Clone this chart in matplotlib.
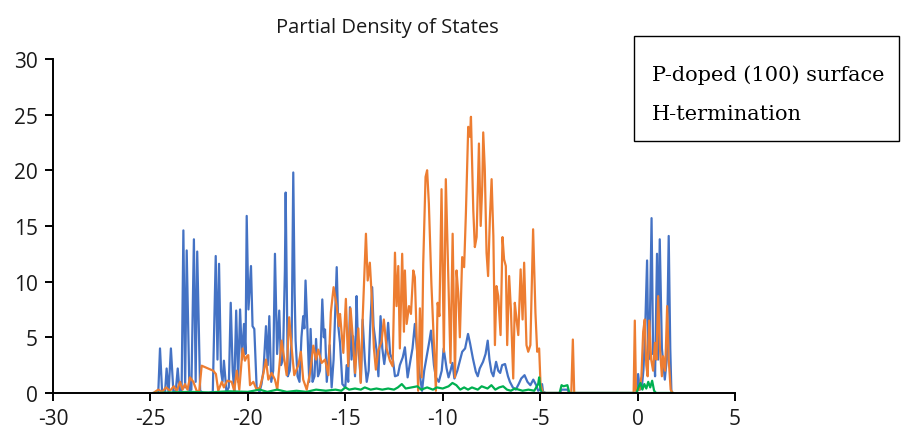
import matplotlib.pyplot as plt
from matplotlib.patches import Rectangle

plt.rcParams['axes.unicode_minus'] = False

# (energy, PDOS) pairs
blue_pts = [
    (-24.85, 0), (-24.6, 0), (-24.51, 4.0), (-24.4, 0), (-24.25, 0.1), (-24.17, 2.2),
    (-24.07, 0), (-23.95, 4.0), (-23.82, 0), (-23.7, 0.2), (-23.6, 2.2), (-23.5, 0),
    (-23.4, 0.3), (-23.31, 14.6), (-23.22, 0.5), (-23.14, 12.8), (-23.0, 0.2), (-22.9, 0.3),
    (-22.77, 13.8), (-22.68, 1.0), (-22.6, 12.7), (-22.45, 0.2), (-22.3, 0), (-22.0, 0),
    (-21.8, 0.1), (-21.65, 12.3), (-21.56, 3.0), (-21.48, 11.6), (-21.38, 2.0), (-21.3, 1.0),
    (-21.23, 2.9), (-21.1, 0.1), (-20.98, 0.5), (-20.88, 8.1), (-20.78, 2.0), (-20.7, 0.2),
    (-20.6, 7.4), (-20.5, 1.0), (-20.4, 7.5), (-20.3, 3.0), (-20.2, 6.2), (-20.12, 3.5),
    (-20.06, 15.9), (-19.97, 7.5), (-19.9, 9.6), (-19.84, 11.4), (-19.76, 6.0), (-19.67, 5.75),
    (-19.55, 0.5), (-19.4, 0.1), (-19.3, 0.8), (-19.2, 2.0), (-19.07, 6.0), (-18.98, 2.5),
    (-18.9, 6.9), (-18.8, 1.0), (-18.7, 2.0), (-18.61, 12.5), (-18.5, 3.5), (-18.39, 7.4),
    (-18.3, 2.5), (-18.2, 3.0), (-18.1, 11.0), (-18.06, 18.0), (-17.95, 1.5), (-17.85, 2.0),
    (-17.75, 5.0), (-17.67, 19.8), (-17.6, 9.0), (-17.55, 4.7), (-17.45, 1.5), (-17.35, 1.0),
    (-17.25, 5.0), (-17.16, 6.9), (-17.1, 5.8), (-17.04, 10.1), (-16.95, 6.0), (-16.85, 1.0),
    (-16.78, 5.75), (-16.68, 1.0), (-16.58, 1.5), (-16.5, 4.85), (-16.4, 1.5), (-16.3, 2.0),
    (-16.18, 8.4), (-16.1, 5.0), (-16.04, 5.7), (-15.95, 1.0), (-15.8, 4.3), (-15.7, 0.5),
    (-15.6, 3.0), (-15.44, 11.3), (-15.36, 6.0), (-15.27, 4.5), (-15.15, 0.8), (-15.0, 0.5),
    (-14.93, 2.5), (-14.85, 1.0), (-14.76, 7.7), (-14.68, 3.0), (-14.6, 5.1), (-14.5, 1.5),
    (-14.42, 8.7), (-14.36, 5.0), (-14.3, 3.5), (-14.2, 1.0), (-14.11, 6.6), (-14.0, 3.0),
    (-13.9, 1.0), (-13.8, 2.0), (-13.72, 6.0), (-13.62, 9.5), (-13.55, 6.0), (-13.4, 3.9),
    (-13.3, 1.5), (-13.19, 6.9), (-13.1, 4.0), (-13.0, 2.6), (-12.9, 4.0), (-12.8, 6.3),
    (-12.7, 3.5), (-12.55, 2.9), (-12.45, 1.5), (-12.3, 1.6), (-12.2, 2.5), (-12.05, 3.2),
    (-11.94, 4.1), (-11.8, 1.4), (-11.65, 3.0), (-11.55, 4.0), (-11.43, 6.2), (-11.3, 3.5),
    (-11.2, 1.9), (-11.06, 0.2), (-10.95, 2.0), (-10.8, 3.5), (-10.7, 4.5), (-10.6, 5.6),
    (-10.45, 2.5), (-10.35, 1.4), (-10.2, 1.0), (-10.05, 2.0), (-9.95, 4.0), (-9.8, 2.2),
    (-9.7, 1.4), (-9.6, 2.0), (-9.5, 2.7), (-9.4, 1.3), (-9.25, 2.0), (-9.1, 3.0),
    (-9.0, 3.7), (-8.85, 4.0), (-8.7, 5.3), (-8.6, 4.5), (-8.45, 3.1), (-8.3, 1.9),
    (-8.2, 1.5), (-8.1, 2.2), (-7.93, 2.8), (-7.8, 3.5), (-7.69, 4.7), (-7.6, 3.0),
    (-7.5, 1.9), (-7.4, 1.5), (-7.26, 2.8), (-7.15, 2.0), (-7.05, 1.8), (-6.95, 2.5),
    (-6.8, 2.6), (-6.65, 1.5), (-6.55, 1.0), (-6.4, 0.5), (-6.25, 0.3), (-6.1, 0.8),
    (-5.97, 1.3), (-5.8, 1.6), (-5.65, 1.0), (-5.5, 0.7), (-5.35, 1.2), (-5.2, 0.7),
    (-5.1, 0.2), (-5.0, 0.3), (-4.9, 0.8), (-4.85, 0.1), (-4.7, 0), (-4.0, 0),
    (-3.9, 0.3), (-3.6, 0.3), (-3.5, 0), (-0.05, 0), (0.03, 1.7), (0.12, 0.3),
    (0.22, 0.5), (0.3, 2.0), (0.38, 5.0), (0.49, 11.9), (0.56, 3.0), (0.63, 6.0),
    (0.72, 15.7), (0.8, 3.5), (0.84, 3.5), (0.9, 1.5), (1.0, 12.5), (1.06, 3.0),
    (1.14, 13.8), (1.25, 4.0), (1.4, 1.2), (1.5, 3.0), (1.6, 14.1), (1.68, 4.0),
    (1.74, 0), (1.8, 0),
]

orange_pts = [
    (-24.85, 0), (-24.6, 0.3), (-24.4, 0.1), (-24.2, 0.5), (-24.0, 0.2), (-23.8, 0.6),
    (-23.65, 0.2), (-23.48, 1.0), (-23.35, 0.3), (-23.23, 0.8), (-23.1, 0.3), (-22.97, 1.4),
    (-22.8, 1.0), (-22.63, 0.2), (-22.5, 0.1), (-22.37, 2.45), (-21.78, 2.0), (-21.64, 1.7),
    (-21.52, 0.2), (-21.34, 1.0), (-21.23, 0.5), (-21.06, 1.1), (-20.83, 1.0), (-20.7, 0.2),
    (-20.57, 2.0), (-20.44, 0.3), (-20.27, 4.0), (-20.15, 2.9), (-20.05, 3.3), (-19.98, 3.4),
    (-19.89, 0.7), (-19.72, 1.0), (-19.55, 0.3), (-19.38, 0.5), (-19.21, 1.7), (-19.07, 3.0),
    (-18.95, 1.2), (-18.78, 1.8), (-18.61, 1.2), (-18.49, 0.3), (-18.27, 4.7), (-18.13, 3.0),
    (-18.01, 1.6), (-17.88, 6.8), (-17.75, 4.0), (-17.62, 1.6), (-17.41, 2.5), (-17.28, 3.7),
    (-17.16, 1.2), (-16.98, 0.3), (-16.81, 1.8), (-16.64, 4.25), (-16.5, 3.0), (-16.39, 3.9),
    (-16.21, 2.7), (-16.04, 3.0), (-15.87, 1.6), (-15.74, 7.25), (-15.6, 9.5), (-15.44, 7.8),
    (-15.33, 6.0), (-15.27, 7.1), (-15.1, 3.6), (-14.97, 8.45), (-14.85, 2.4), (-14.73, 7.6),
    (-14.62, 5.1), (-14.5, 1.8), (-14.33, 5.8), (-14.21, 0.9), (-14.11, 6.6), (-13.94, 14.3),
    (-13.85, 10.1), (-13.74, 11.7), (-13.65, 8.9), (-13.53, 4.0), (-13.43, 2.1), (-13.31, 3.8),
    (-13.14, 4.6), (-13.02, 6.6), (-12.88, 4.0), (-12.71, 2.9), (-12.57, 2.4), (-12.45, 12.6),
    (-12.37, 7.8), (-12.28, 11.4), (-12.2, 4.0), (-12.08, 12.5), (-11.99, 5.5), (-11.94, 11.0),
    (-11.85, 6.2), (-11.73, 7.8), (-11.63, 7.1), (-11.51, 11.0), (-11.43, 10.4), (-11.34, 5.3),
    (-11.26, 0.2), (-11.17, 7.6), (-11.08, 1.4), (-11.0, 11.6), (-10.88, 19.4), (-10.8, 20.0),
    (-10.71, 17.0), (-10.58, 9.8), (-10.44, 4.0), (-10.35, 0.2), (-10.26, 8.1), (-10.17, 6.9),
    (-10.06, 18.3), (-9.94, 3.7), (-9.84, 19.2), (-9.72, 11.0), (-9.6, 2.7), (-9.49, 14.3),
    (-9.37, 1.4), (-9.29, 11.0), (-9.2, 8.9), (-9.12, 5.0), (-9.0, 12.2), (-8.9, 11.3),
    (-8.81, 16.1), (-8.69, 23.9), (-8.6, 23.0), (-8.55, 24.8), (-8.43, 16.4), (-8.35, 13.1),
    (-8.26, 14.0), (-8.14, 22.4), (-8.05, 15.0), (-7.97, 18.6), (-7.92, 23.4), (-7.84, 20.1),
    (-7.75, 12.6), (-7.67, 10.5), (-7.58, 15.6), (-7.49, 19.2), (-7.4, 14.1), (-7.32, 4.3),
    (-7.24, 9.6), (-7.15, 8.7), (-7.03, 5.2), (-6.93, 14.0), (-6.85, 12.0), (-6.76, 11.4),
    (-6.69, 4.3), (-6.59, 10.5), (-6.5, 7.5), (-6.38, 1.3), (-6.3, 8.1), (-6.21, 6.6),
    (-6.12, 5.2), (-6.0, 11.1), (-5.9, 6.6), (-5.82, 11.7), (-5.7, 4.3), (-5.61, 3.7),
    (-5.5, 4.3), (-5.36, 14.7), (-5.24, 7.2), (-5.15, 3.7), (-5.05, 4.0), (-4.98, 0.8),
    (-4.86, 0), (-3.4, 0), (-3.32, 4.8), (-3.25, 0), (-0.2, 0), (-0.14, 6.5),
    (-0.08, 0.2), (0.1, 0.3), (0.2, 1.5), (0.29, 5.5), (0.37, 6.6), (0.45, 2.5),
    (0.52, 1.5), (0.6, 6.5), (0.7, 3.0), (0.8, 2.0), (0.89, 4.5), (0.97, 3.0),
    (1.06, 8.7), (1.15, 4.0), (1.25, 1.5), (1.31, 3.3), (1.42, 2.0), (1.52, 7.8),
    (1.6, 3.0), (1.7, 0.3), (1.8, 0),
]

green_pts = [
    (-24.8, 0), (-23.0, 0.1), (-22.0, 0.05), (-21.0, 0.15), (-20.0, 0.1), (-19.4, 0.3),
    (-19.0, 0.1), (-18.5, 0.3), (-18.0, 0.1), (-17.5, 0.2), (-17.0, 0.1), (-16.5, 0.3),
    (-16.0, 0.2), (-15.5, 0.3), (-15.2, 0.2), (-15.0, 0.5), (-14.8, 0.3), (-14.5, 0.4),
    (-14.2, 0.3), (-14.0, 0.5), (-13.7, 0.3), (-13.4, 0.4), (-13.1, 0.3), (-12.8, 0.4),
    (-12.5, 0.3), (-12.3, 0.5), (-12.1, 0.8), (-11.9, 0.4), (-11.6, 0.5), (-11.3, 0.6),
    (-11.1, 0.3), (-10.8, 0.5), (-10.5, 0.3), (-10.3, 0.5), (-10.0, 0.4), (-9.7, 0.6),
    (-9.5, 0.9), (-9.3, 0.7), (-9.1, 0.3), (-8.9, 0.5), (-8.7, 0.3), (-8.5, 0.5),
    (-8.2, 0.3), (-8.0, 0.6), (-7.7, 0.4), (-7.5, 0.7), (-7.3, 0.3), (-7.1, 0.5),
    (-6.9, 0.6), (-6.7, 0.3), (-6.5, 0.2), (-6.3, 0.4), (-6.1, 0.3), (-5.9, 0.2),
    (-5.6, 0.3), (-5.3, 0.2), (-5.1, 0.8), (-5.05, 1.4), (-4.98, 0.3), (-4.9, 0),
    (-4.0, 0), (-3.9, 0.7), (-3.8, 0.6), (-3.6, 0.7), (-3.5, 0), (-0.05, 0),
    (0.05, 0.5), (0.15, 0.9), (0.25, 0.3), (0.35, 0.8), (0.45, 0.4), (0.55, 1.0),
    (0.65, 0.5), (0.75, 1.1), (0.85, 0.2), (0.95, 0), (1.8, 0),
]

colors = ['#4472C4', '#ED7D31', '#00B050']

fig = plt.figure(figsize=(9.02, 4.35), dpi=100)
ax = fig.add_axes([0.0588, 0.0943, 0.756, 0.768])

for pts, c in zip([blue_pts, orange_pts, green_pts], colors):
    e, v = zip(*pts)
    ax.plot(e, v, color=c, lw=1.6)

ax.set_xlim(-30, 5)
ax.set_ylim(0, 30)
ax.set_xticks(range(-30, 6, 5))
ax.set_yticks(range(0, 31, 5))
for s in ['top', 'right']:
    ax.spines[s].set_visible(False)
for s in ['left', 'bottom']:
    ax.spines[s].set_linewidth(1.4)
ax.tick_params(direction='out', length=6, width=1.4, labelsize=15, pad=5)
for lab in ax.get_xticklabels() + ax.get_yticklabels():
    lab.set_fontfamily('Open Sans')
    lab.set_color('#1a1a1a')

fig.text(0.43, 0.935, 'Partial Density of States', ha='center', va='center',
         fontsize=14.5, family='Open Sans', color='#1a1a1a')

fig.patches.append(Rectangle((0.703, 0.674), 0.294, 0.242, transform=fig.transFigure,
                             fill=False, edgecolor='black', lw=1.0))
fig.text(0.723, 0.828, 'P-doped (100) surface', ha='left', va='center',
         fontsize=15, family='DejaVu Serif')
fig.text(0.723, 0.736, 'H-termination', ha='left', va='center',
         fontsize=15, family='DejaVu Serif')

fig.savefig('out.png', dpi=100)
